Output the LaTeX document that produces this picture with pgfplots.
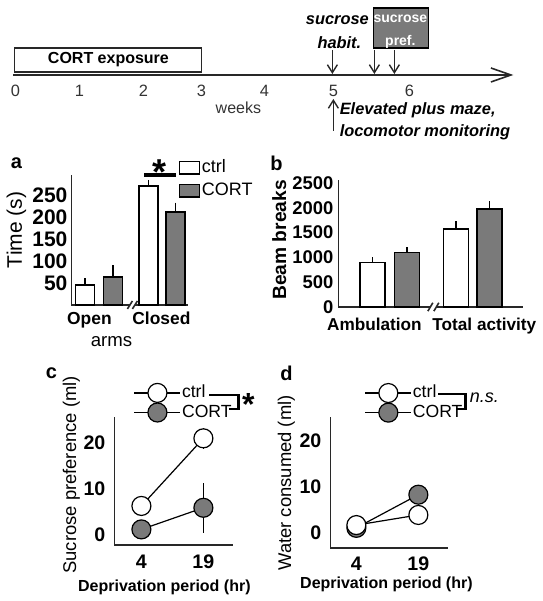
\documentclass[border=0pt]{standalone}
\usepackage{pgfplots}
\pgfplotsset{compat=1.18}
\usepackage{fontspec}
\setmainfont{Liberation Sans}
\usetikzlibrary{arrows.meta}
\definecolor{cortgray}{RGB}{122,122,122}
\definecolor{linegray}{RGB}{40,40,40}
\newcommand{\fs}[1]{\fontsize{#1}{#1}\selectfont}
\pgfplotsset{
  panel/.style={
    scale only axis, anchor=south west,
    axis x line*=bottom, axis y line*=left,
    axis line style={line width=0.8pt, linegray},
    major tick length=0pt, tick style={draw=none},
    /pgf/number format/assume math mode=true,
    /pgf/number format/set thousands separator={},
    clip=false,
  },
  barbase/.style={ybar, bar width=#1, bar shift=0pt, draw=black, line width=0.8pt,
    error bars/y dir=plus, error bars/y explicit, error bars/error mark=none,
    error bars/error bar style={line width=0.8pt, black},
    legend image code/.code={\draw[##1, line width=0.8pt] (0pt,-3.1pt) rectangle (10pt,3.1pt);}},
  ptbase/.style={black, line width=0.6pt, mark=*, mark size=4.75pt,
    mark options={line width=0.8pt, draw=black},
    error bars/y dir=both, error bars/y explicit, error bars/error mark=none,
    error bars/error bar style={line width=0.8pt, black}},
  linelegend/.style={legend image code/.code={\draw[mark repeat=2,mark phase=2,##1] plot coordinates {(0pt,0pt) (11.5pt,0pt) (23pt,0pt)};}},
}
\begin{document}
\begin{tikzpicture}
\begin{scope}[x=0.5pt,y=-0.5pt]
\path[use as bounding box] (0,0) rectangle (541,601);
\end{scope}

% ---------------- panel a ----------------
\begin{axis}[panel, at={(35pt,-152.5pt)}, width=58.5pt, height=65pt,
  xmin=0, xmax=117, ymin=0, ymax=295,
  ytick={50,100,150,200,250},
  yticklabel style={font=\bfseries\fs{10.5}, xshift=1.5pt},
  xtick={18,90}, xticklabels={Open,Closed},
  xticklabel style={font=\bfseries\fs{8.7}},
  xlabel={arms}, xlabel style={at={(axis description cs:0.342,-0.285)}, anchor=center, font=\fs{9.3}},
  ylabel={Time (s)}, ylabel style={at={(axis description cs:-0.47,0.577)}, anchor=center, font=\fs{10.5}},
  legend style={at={(axis description cs:0.915,1.13)}, anchor=north west, draw=none, fill=none,
    inner sep=0pt, row sep=2.2pt, font=\fs{9}, nodes={inner sep=0.7pt}},
  legend cell align=left,
]
\addplot[barbase=9.5pt, fill=white] coordinates {(13.5,45) +- (0,16) (77,270) +- (0,14)};
\addlegendentry{ctrl}
\addplot[barbase=9.5pt, fill=cortgray] coordinates {(41.5,64) +- (0,27) (104,211) +- (0,21)};
\addlegendentry{CORT}
\fill[white] (axis cs:58.5,-5) rectangle (axis cs:63.5,5);
\draw[line width=0.8pt, linegray] (axis cs:56,-9) -- (axis cs:61,9);
\draw[line width=0.8pt, linegray] (axis cs:61,-9) -- (axis cs:66,9);
\end{axis}

% ---------------- panel b ----------------
\begin{axis}[panel, at={(168.5pt,-153.5pt)}, width=92.5pt, height=63.5pt,
  xmin=0, xmax=185, ymin=0, ymax=2560,
  ytick={0,500,1000,1500,2000,2500},
  yticklabel style={font=\bfseries\fs{9.2}, xshift=1pt},
  xtick={36,146}, xticklabels={Ambulation,Total activity},
  xticklabel style={font=\bfseries\fs{8.6}, yshift=-1.8pt},
  ylabel={Beam breaks}, ylabel style={at={(axis description cs:-0.319,0.528)}, anchor=center, font=\bfseries\fs{9.6}},
]
\addplot[barbase=12.5pt, fill=white] coordinates {(34,900) +- (0,100) (117.5,1570) +- (0,160)};
\addplot[barbase=12.5pt, fill=cortgray] coordinates {(68.5,1100) +- (0,100) (151,1970) +- (0,160)};
\fill[white] (axis cs:92,-45) rectangle (axis cs:98,45);
\draw[line width=0.8pt, linegray] (axis cs:89.5,-85) -- (axis cs:94.5,85);
\draw[line width=0.8pt, linegray] (axis cs:95.5,-85) -- (axis cs:100.5,85);
\end{axis}

% ---------------- panel c ----------------
\begin{axis}[panel, at={(56.5pt,-272.5pt)}, width=59.5pt, height=64pt,
  xmin=-2.53, xmax=26.26, ymin=-2.17, ymax=25.65,
  xtick={4,19}, ytick={0,10,20},
  yticklabel style={font=\bfseries\fs{9.8}, xshift=-1pt},
  xticklabel style={font=\bfseries\fs{9.8}, yshift=-1.5pt},
  xlabel={Deprivation period (hr)}, xlabel style={at={(axis description cs:0.42,-0.328)}, anchor=center, font=\bfseries\fs{8}},
  ylabel={Sucrose preference (ml)}, ylabel style={at={(axis description cs:-0.361,0.547)}, anchor=center, font=\fs{9.2}},
  legend style={at={(axis description cs:0.16,1.265)}, anchor=north west, draw=none, fill=none,
    inner sep=0pt, row sep=0.3pt, font=\fs{8.8}, nodes={inner sep=0.5pt}},
  legend cell align=left, reverse legend, linelegend,
]
\addplot[ptbase, mark options={fill=cortgray}] coordinates {(4,1.2) +- (0,0.5) (19,5.9) +- (0,5.4)};
\addlegendentry{CORT}
\addplot[ptbase, mark options={fill=white}] coordinates {(4,6.3) +- (0,0.5) (19,21) +- (0,2.3)};
\addlegendentry{ctrl}
\end{axis}

% ---------------- panel d ----------------
\begin{axis}[panel, at={(164.5pt,-274pt)}, width=59pt, height=65.5pt,
  xmin=-2.29, xmax=26.26, ymin=-3.26, ymax=25.2,
  xtick={4,19}, ytick={0,10,20},
  yticklabel style={font=\bfseries\fs{9.8}, xshift=-1pt},
  xticklabel style={font=\bfseries\fs{9.8}, yshift=-1pt},
  xlabel={Deprivation period (hr)}, xlabel style={at={(axis description cs:0.475,-0.282)}, anchor=center, font=\bfseries\fs{8}},
  ylabel={Water consumed (ml)}, ylabel style={at={(axis description cs:-0.373,0.496)}, anchor=center, font=\fs{9.2}},
  legend style={at={(axis description cs:0.288,1.258)}, anchor=north west, draw=none, fill=none,
    inner sep=0pt, row sep=0.3pt, font=\fs{8.8}, nodes={inner sep=0.5pt}},
  legend cell align=left, reverse legend, linelegend,
]
\addplot[ptbase, mark options={fill=cortgray}] coordinates {(4,1.1) +- (0,0.5) (19,8.3) +- (0,2)};
\addlegendentry{CORT}
\addplot[ptbase, mark options={fill=white}] coordinates {(4,1.7) +- (0,0.5) (19,3.9) +- (0,0.5)};
\addlegendentry{ctrl}
\end{axis}

% ---------------- annotations ----------------
\begin{scope}[x=0.5pt,y=-0.5pt, every node/.style={inner sep=0pt}]
% timeline
\draw[line width=0.8pt, linegray, -{Straight Barb[length=10pt,width=7pt,line width=0.8pt]}] (12,75) -- (512,75);
\draw[line width=0.8pt, linegray, fill=white] (13,48) rectangle (200,72);
\node[font=\bfseries\fs{8}] at (107,60) {CORT exposure};
\foreach \x/\l in {14/0,78/1,142/2,200/3,263/4,332/5,408/6}
  \node[font=\fs{8.2}, text=black!80] at (\x,91) {\l};
\node[font=\fs{8}, text=black!80] at (237,108) {weeks};
\node[font=\bfseries\itshape\fs{8.2}] at (336,20) {sucrose};
\node[font=\bfseries\itshape\fs{8.2}] at (338,43) {habit.};
\draw[line width=0.8pt, black, fill=cortgray] (372,8) rectangle (427,48);
\node[font=\bfseries\fs{7}, text=white] at (399,19) {sucrose};
\node[font=\bfseries\fs{7}, text=white] at (399,42) {pref.};
\foreach \x in {331,373,393}
  \draw[line width=0.7pt, linegray, -{Straight Barb[length=4pt,width=5pt,line width=0.7pt]}] (\x,50) -- (\x,74);
\draw[line width=0.7pt, linegray, -{Straight Barb[length=4pt,width=5pt,line width=0.7pt]}] (332,131) -- (332,99);
\node[font=\bfseries\itshape\fs{8.2}, anchor=west] at (338,110) {Elevated plus maze,};
\node[font=\bfseries\itshape\fs{8.2}, anchor=west] at (338,132) {locomotor monitoring};
% panel letters
\node[font=\bfseries\fs{10}] at (15,163) {a};
\node[font=\bfseries\fs{10}] at (275,163) {b};
\node[font=\bfseries\fs{10}] at (50,373) {c};
\node[font=\bfseries\fs{10}] at (285,373) {d};
% significance a
\draw[line width=1.6pt, black] (143,175) -- (175,175);
\node[font=\bfseries\fs{18}] at (158,172) {*};
% bracket c
\draw[line width=1.3pt, black] (208,395) -- (237,395) -- (237,409) -- (228,409);
\node[font=\bfseries\fs{16}] at (247,405) {*};
% bracket d
\draw[line width=1.3pt, black] (437,394) -- (464,394) -- (464,409) -- (455,409);
\node[font=\itshape\fs{9}, anchor=west] at (468,398) {n.s.};
\end{scope}
\end{tikzpicture}
\end{document}
